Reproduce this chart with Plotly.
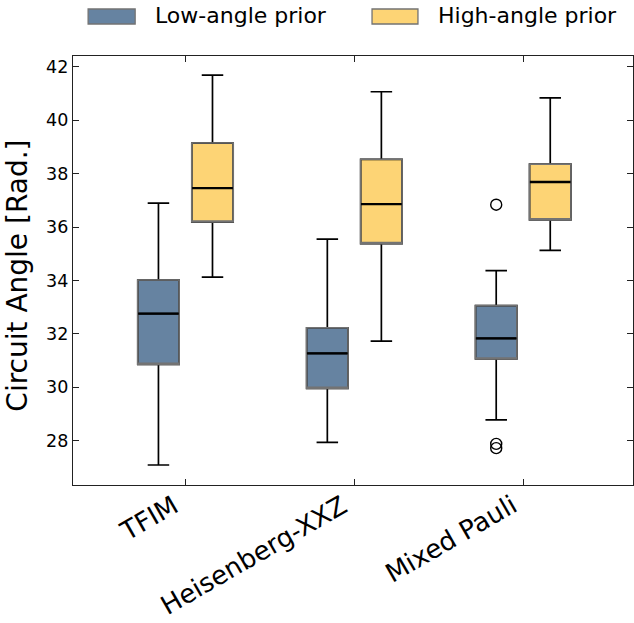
import plotly.graph_objects as go

categories = ["TFIM", "Heisenberg-XXZ", "Mixed Pauli"]
series_names = ["Low-angle prior", "High-angle prior"]

low_lower = [27.09, 27.94, 28.78]
low_q1 = [30.86, 29.96, 31.06]
low_median = [32.76, 31.27, 31.83]
low_q3 = [34.02, 32.23, 33.06]
low_upper = [36.90, 35.55, 34.37]

high_lower = [34.13, 31.73, 35.13]
high_q1 = [36.19, 35.38, 36.27]
high_median = [37.46, 36.86, 37.69]
high_q3 = [39.15, 38.54, 38.36]
high_upper = [41.69, 41.07, 40.84]

low_outlier_cat = [2, 2, 2]
low_outlier_vals = [36.84, 27.88, 27.72]

y_ticks = [28, 30, 32, 34, 36, 38, 40, 42]
y_title = "Circuit Angle [Rad.]"

colors = ["#6683A1", "#FDD475"]
edge_gray = "#737373"
offset = 0.16
box_w = 0.245
FONT = "DejaVu Sans"

fig = go.Figure()

groups = [
    (low_lower, low_q1, low_median, low_q3, low_upper, -offset),
    (high_lower, high_q1, high_median, high_q3, high_upper, offset),
]

for k, (lo, q1, med, q3, hi, off) in enumerate(groups):
    xs = [i + off for i in range(len(categories))]
    # main box: fill and black whiskers
    fig.add_trace(go.Box(
        x=xs, q1=q1, median=med, q3=q3, lowerfence=lo, upperfence=hi,
        width=box_w, whiskerwidth=0.52,
        fillcolor=colors[k], line=dict(color="black", width=1.7),
        boxpoints=False, name=series_names[k], showlegend=False,
        hoverinfo="skip",
    ))
    # grey box edge overlay
    fig.add_trace(go.Box(
        x=xs, q1=q1, median=q1, q3=q3, lowerfence=q1, upperfence=q3,
        width=box_w, whiskerwidth=0,
        fillcolor="rgba(0,0,0,0)", line=dict(color=edge_gray, width=1.6),
        boxpoints=False, showlegend=False, hoverinfo="skip",
    ))
    # thicker black median line
    fig.add_trace(go.Box(
        x=xs, q1=med, median=med, q3=med, lowerfence=med, upperfence=med,
        width=box_w * 0.985, whiskerwidth=0,
        fillcolor="rgba(0,0,0,0)", line=dict(color="black", width=2.3),
        boxpoints=False, showlegend=False, hoverinfo="skip",
    ))

fig.add_trace(go.Scatter(
    x=[c - offset for c in low_outlier_cat], y=low_outlier_vals,
    mode="markers",
    marker=dict(symbol="circle-open", size=11, color="black", line=dict(width=1.4)),
    showlegend=False, hoverinfo="skip",
))

# manual legend (matplotlib style)
leg = [
    (0.027, 0.111, 0.143, 0),
    (0.534, 0.616, 0.648, 1),
]
for x0, x1, xt, k in leg:
    fig.add_shape(type="rect", xref="paper", yref="paper",
                  x0=x0, x1=x1, y0=1.0746, y1=1.1096,
                  fillcolor=colors[k], line=dict(color=edge_gray, width=1.3))
    fig.add_annotation(xref="paper", yref="paper", x=xt, y=1.0935,
                       text=series_names[k], showarrow=False,
                       xanchor="left", yanchor="middle",
                       font=dict(family=FONT, size=22, color="black"))

# rotated category labels (matplotlib-style: right/top anchored)
for i, cat in enumerate(categories):
    fig.add_annotation(xref="x", yref="paper", x=i, y=0, yshift=-2, xshift=1,
                       text=cat, showarrow=False, textangle=-30,
                       xanchor="right", yanchor="top",
                       font=dict(family=FONT, size=26, color="black"))

# y-axis title
fig.add_annotation(xref="paper", yref="paper", x=-0.099, y=0.487,
                   text=y_title, showarrow=False, textangle=-90,
                   xanchor="center", yanchor="middle",
                   font=dict(family=FONT, size=28, color="black"))

axis_common = dict(
    showline=True, linecolor="#222", linewidth=1.3, mirror="allticks",
    ticks="inside", ticklen=6, tickwidth=1.2, tickcolor="#222",
    showgrid=False, zeroline=False, automargin=False,
)

fig.update_layout(
    width=634, height=623,
    margin=dict(l=73, r=1, t=56, b=138),
    paper_bgcolor="white", plot_bgcolor="white",
    font=dict(family=FONT, color="black"),
    showlegend=False,
    xaxis=dict(
        range=[-0.666, 2.65], tickmode="array", tickvals=[0, 1, 2],
        ticktext=categories, showticklabels=False,
        **axis_common,
    ),
    yaxis=dict(
        range=[26.34, 42.41], tickmode="array", tickvals=y_ticks,
        ticktext=[str(v) for v in y_ticks],
        tickfont=dict(family=FONT, size=17.5, color="black"),
        **axis_common,
    ),
)

fig.write_html("out.html")
